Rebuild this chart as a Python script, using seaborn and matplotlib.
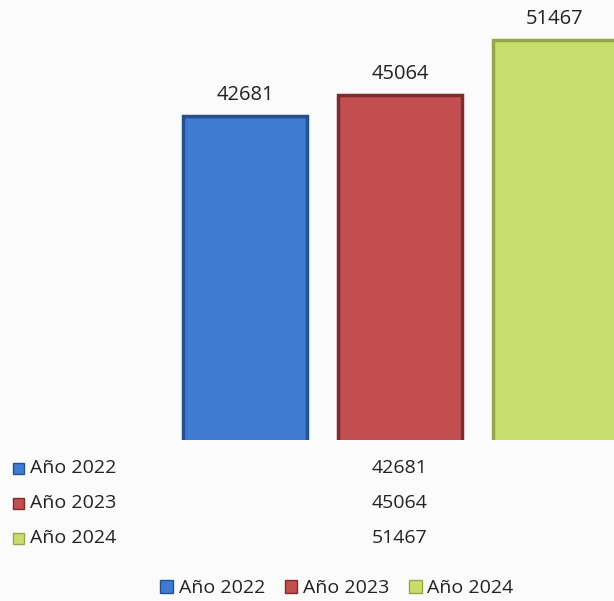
import matplotlib
matplotlib.use("Agg")
import matplotlib.pyplot as plt
import seaborn as sns
import pandas as pd
from matplotlib.patches import Patch

categories = ["Año 2022", "Año 2023", "Año 2024"]
values = [42681, 45064, 51467]
colors = ["#3f7bcf", "#c25050", "#c9dd6c"]
edges = ["#24508f", "#7e2c2c", "#94a84a"]

sns.set_theme(style="white")
plt.rcParams["font.family"] = ["Open Sans", "DejaVu Sans"]

df = pd.DataFrame({"cat": categories, "val": values})

fig = plt.figure(figsize=(6.14, 6.01), dpi=100)
fig.patch.set_facecolor("#fbfbfb")
ax = fig.add_axes([0.0, 161 / 601, 1.0, 430 / 601])
ax.set_facecolor("none")

sns.barplot(data=df, x="cat", y="val", hue="cat", palette=colors, dodge=False,
            width=0.8, saturation=1, legend=False, ax=ax)
for p, ec in zip(ax.patches, edges):
    p.set_edgecolor(ec)
    p.set_linewidth(2.5)
for c in ax.containers:
    ax.bar_label(c, fmt="%d", padding=8, fontsize=14.5, color="#222222")

ax.set_ylim(5000, 55000)
ax.set_xlim(-245 / 155, (614 - 245) / 155)
ax.set_xticks([])
ax.set_yticks([])
ax.set_xlabel("")
ax.set_ylabel("")
for s in ax.spines.values():
    s.set_visible(False)

# data table
row_y = [468, 503, 538]
for cat, val, col, ec, y in zip(categories, values, colors, edges, row_y):
    fy = 1 - y / 601
    fig.patches.append(plt.Rectangle((13 / 614, fy - 0.010), 11 / 614, 11 / 601,
                                     transform=fig.transFigure, facecolor=col,
                                     edgecolor=ec, linewidth=1))
    fig.text(30 / 614, fy, cat, fontsize=14, color="#222222", va="center", ha="left")
    fig.text(400 / 614, fy, str(val), fontsize=14, color="#222222", va="center", ha="center")

handles = [Patch(facecolor=c, edgecolor=e, label=l) for c, e, l in zip(colors, edges, categories)]
fig.legend(handles=handles, loc="center", bbox_to_anchor=(337 / 614, 1 - 588 / 601),
           ncol=3, frameon=False, fontsize=14, handlelength=0.65, handleheight=0.65,
           handletextpad=0.3, columnspacing=1.0, labelcolor="#222222")

fig.savefig("out.png", dpi=100, facecolor=fig.get_facecolor())
